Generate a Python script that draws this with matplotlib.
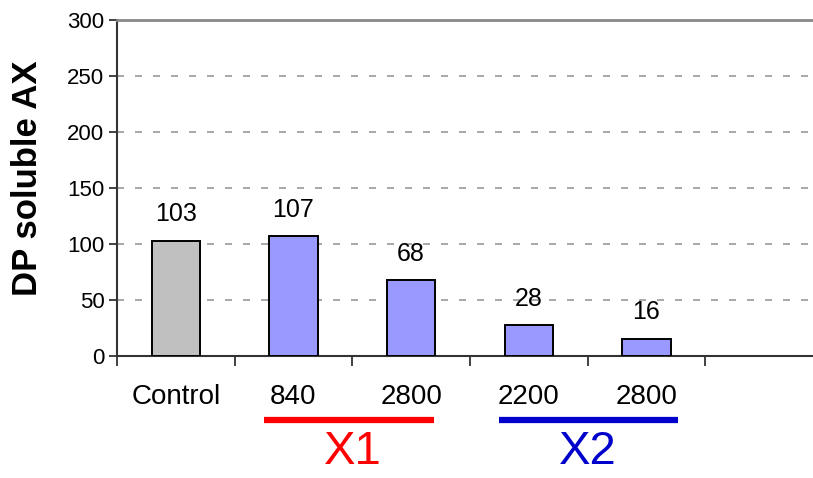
import matplotlib
matplotlib.use("Agg")
import matplotlib.pyplot as plt

plt.rcParams["font.family"] = ["Liberation Sans", "DejaVu Sans"]

# categories and DP values
categories = ["Control", "840", "2800", "2200", "2800"]
dp_values = [103, 107, 68, 28, 16]
bar_colors = ["#C0C0C0", "#9999FF", "#9999FF", "#9999FF", "#9999FF"]

# enzyme groups: (label, first index, last index, colour)
groups = [("X1", 1, 2, "#FF0000"), ("X2", 3, 4, "#0000CC")]
# underline reach past the group's outer bars (left, right), in category units
group_reach = [(0.25, 0.19), (0.25, 0.27)]

n_slots = 6
yticks = [0, 50, 100, 150, 200, 250, 300]

fig = plt.figure(figsize=(8.13, 4.78), dpi=100)
ax = fig.add_axes([0.1439, 0.2542, 0.8684, 0.7046])

xs = list(range(len(categories)))
ax.bar(xs, dp_values, width=0.41, color=bar_colors, edgecolor="black",
       linewidth=1.4, zorder=3)

for x, v in zip(xs, dp_values):
    ax.annotate(str(v), (x, v), xytext=(0, 19), textcoords="offset points",
                ha="center", va="center", fontsize=18)

ax.set_xlim(-0.5, n_slots - 0.5)
ax.set_ylim(0, 300)
ax.set_yticks(yticks)
ax.tick_params(axis="y", labelsize=16, length=6, width=1.3, color="#333333", pad=3)
ax.set_xticks([i - 0.5 for i in range(n_slots + 1)])
ax.set_xticklabels([])
ax.tick_params(axis="x", length=7, width=1.3, color="#333333")

for y in yticks[1:-1]:
    ax.axhline(y, color="#999999", linestyle=(0, (4.2, 6.6)), linewidth=1.2, zorder=1)

ax.spines["left"].set_color("#333333")
ax.spines["left"].set_linewidth(1.5)
ax.spines["bottom"].set_color("#333333")
ax.spines["bottom"].set_linewidth(1.5)
ax.spines["top"].set_color("#888888")
ax.spines["top"].set_linewidth(2)
ax.spines["right"].set_visible(False)

ax.set_ylabel("DP soluble AX", fontsize=25, fontweight="bold")
ax.yaxis.set_label_coords(-0.104, 0.53)

trans = ax.get_xaxis_transform()
for x, name in zip(xs, categories):
    ax.text(x, -0.12, name, transform=trans, ha="center", va="center",
            fontsize=20, clip_on=False)

for (label, i0, i1, col), (left, right) in zip(groups, group_reach):
    ax.plot([i0 - left, i1 + right], [-0.19, -0.19], transform=trans,
            color=col, linewidth=4.5, solid_capstyle="butt", clip_on=False)
    ax.text((i0 + i1) / 2, -0.285, label, transform=trans, ha="center",
            va="center", fontsize=34, color=col, clip_on=False)

fig.savefig("out.png", dpi=100)
